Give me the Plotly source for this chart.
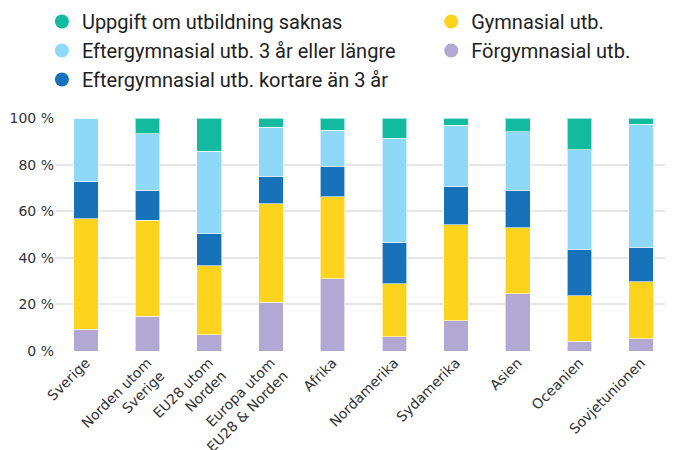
import plotly.graph_objects as go

categories = ["Sverige", "Norden utom<br>Sverige", "EU28 utom<br>Norden", "Europa utom<br>EU28 & Norden",
              "Afrika", "Nordamerika", "Sydamerika", "Asien", "Oceanien", "Sovjetunionen"]

forgymnasial = [9.3, 14.9, 6.9, 21.0, 31.0, 6.2, 12.9, 24.5, 4.1, 5.2]
gymnasial = [47.5, 41.2, 29.7, 42.2, 35.1, 22.6, 41.3, 28.4, 19.6, 24.6]
efter_kort = [15.9, 12.6, 13.8, 11.9, 13.3, 17.7, 16.2, 16.1, 19.8, 14.7]
efter_lang = [27.3, 24.6, 35.3, 21.0, 15.4, 44.9, 26.5, 25.0, 42.8, 52.9]
saknas = [0.0, 6.7, 14.3, 3.9, 5.2, 8.6, 3.1, 6.0, 13.7, 2.6]

series_names = ["Förgymnasial utb.", "Gymnasial utb.", "Eftergymnasial utb. kortare än 3 år",
                "Eftergymnasial utb. 3 år eller längre", "Uppgift om utbildning saknas"]
series_values = [forgymnasial, gymnasial, efter_kort, efter_lang, saknas]
colors = ["#B1A9D4", "#FCD41E", "#1772BA", "#8FD8F7", "#12BAA0"]
legend_ids = ["legend2", "legend2", "legend", "legend", "legend"]
legend_ranks = [2, 1, 3, 2, 1]

ytick_vals = [0, 20, 40, 60, 80, 100]
ytick_text = ["0 %", "20 %", "40 %", "60 %", "80 %", "100 %"]

fig = go.Figure()
for name, vals, col in zip(series_names, series_values, colors):
    fig.add_trace(go.Bar(x=categories, y=vals, name=name, marker_color=col,
                         marker_line=dict(width=1, color="rgba(255,255,255,0.6)"),
                         showlegend=False))
for name, col, lid, rank in zip(series_names, colors, legend_ids, legend_ranks):
    fig.add_trace(go.Scatter(x=[None], y=[None], mode="markers", name=name, legend=lid,
                             legendrank=rank, legendgroup=name,
                             marker=dict(symbol="circle", size=14, color=col)))

legend_font = dict(family="Roboto", size=20, color="#222222")
fig.update_layout(
    width=665, height=442,
    barmode="stack", bargap=0.6,
    margin=dict(l=47, r=1, t=110, b=99, autoexpand=False),
    paper_bgcolor="white", plot_bgcolor="white",
    font=dict(family="DejaVu Sans", color="#333333"),
    legend=dict(orientation="v", xref="container", yref="paper", x=0.051, y=1.498,
                xanchor="left", yanchor="top", font=legend_font, tracegroupgap=0,
                bgcolor="rgba(0,0,0,0)"),
    legend2=dict(orientation="v", xref="container", yref="paper", x=0.6364, y=1.498,
                 xanchor="left", yanchor="top", font=legend_font, tracegroupgap=0,
                 bgcolor="rgba(0,0,0,0)"),
    showlegend=True,
)
fig.update_xaxes(tickangle=-45, tickfont=dict(family="DejaVu Sans", size=14, color="#333333"),
                 showgrid=False, showline=False, ticks="")
fig.update_yaxes(range=[0, 100], tickvals=ytick_vals, ticktext=ytick_text,
                 tickfont=dict(family="DejaVu Sans", size=14, color="#333333"), showgrid=True,
                 gridcolor="#E6E6E6", gridwidth=2, zeroline=False, ticks="")

fig.write_html("out.html")
